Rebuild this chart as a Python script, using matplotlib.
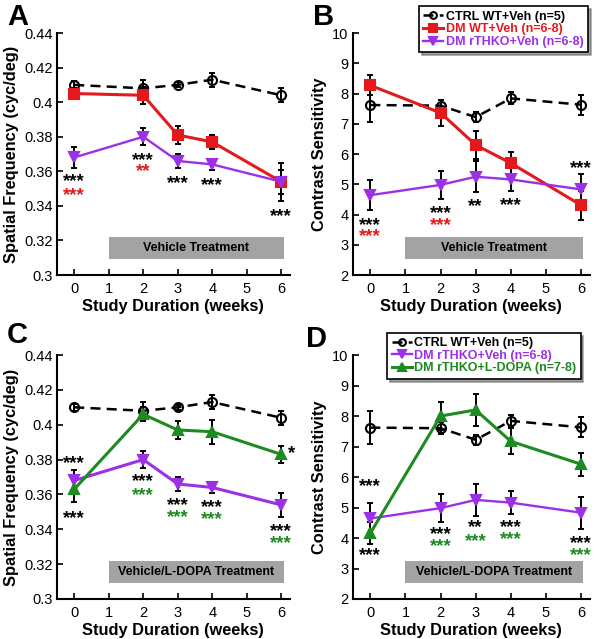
import matplotlib.pyplot as plt
from matplotlib.patches import Rectangle
from matplotlib.ticker import FuncFormatter
from matplotlib.transforms import ScaledTranslation

plt.rcParams['font.family'] = ['Liberation Sans', 'DejaVu Sans']

# ---- data ----
weeks = [0, 2, 3, 4, 6]

sf_ctrl = [0.410, 0.408, 0.410, 0.413, 0.404]
sf_ctrl_err = [0.002, 0.005, 0.0015, 0.004, 0.004]
sf_wt = [0.405, 0.404, 0.381, 0.377, 0.354]
sf_wt_err = [0.002, 0.005, 0.005, 0.004, 0.011]
sf_ko = [0.368, 0.380, 0.366, 0.364, 0.354]
sf_ko_err = [0.006, 0.005, 0.004, 0.003, 0.007]
sf_ld = [0.363, 0.406, 0.397, 0.396, 0.383]
sf_ld_err = [0.0075, 0.004, 0.005, 0.007, 0.005]

cs_ctrl = [7.62, 7.60, 7.22, 7.84, 7.63]
cs_ctrl_err = [0.55, 0.20, 0.16, 0.20, 0.33]
cs_wt = [8.27, 7.36, 6.30, 5.70, 4.31]
cs_wt_err = [0.33, 0.42, 0.46, 0.37, 0.48]
cs_ko = [4.64, 4.98, 5.25, 5.16, 4.83]
cs_ko_err = [0.50, 0.47, 0.52, 0.37, 0.52]
cs_ld = [4.16, 8.00, 8.20, 7.17, 6.42]
cs_ld_err = [0.36, 0.47, 0.52, 0.43, 0.38]

lab_ctrl = 'CTRL WT+Veh (n=5)'
lab_wt = 'DM WT+Veh (n=6-8)'
lab_ko = 'DM rTHKO+Veh (n=6-8)'
lab_ld = 'DM rTHKO+L-DOPA (n=7-8)'

RED = '#e3191c'
PURPLE = '#9b30e6'
GREEN = '#1d8a22'

# significance stars: (week, y, text, colour)
stars_a = [(0, 0.357, '***', 'k'), (0, 0.349, '***', RED),
           (2, 0.3693, '***', 'k'), (2, 0.3626, '**', RED),
           (3, 0.356, '***', 'k'), (4, 0.355, '***', 'k'), (6, 0.337, '***', 'k')]
stars_b = [(0, 3.82, '***', 'k'), (0, 3.43, '***', RED),
           (2, 4.20, '***', 'k'), (2, 3.82, '***', RED),
           (3, 4.42, '**', 'k'), (4, 4.48, '***', 'k'), (6, 5.69, '***', 'k')]
stars_c = [(0, 0.3808, '***', 'k'), (0, 0.3493, '***', 'k'),
           (2, 0.3703, '***', 'k'), (2, 0.3623, '***', GREEN),
           (3, 0.3565, '***', 'k'), (3, 0.3497, '***', GREEN),
           (4, 0.3554, '***', 'k'), (4, 0.3487, '***', GREEN),
           (6, 0.3416, '***', 'k'), (6, 0.3346, '***', GREEN),
           (6.3, 0.3865, '*', 'k')]
stars_d = [(0, 5.85, '***', 'k'), (0, 3.59, '***', 'k'),
           (2, 4.27, '***', 'k'), (2, 3.89, '***', GREEN),
           (3, 4.52, '**', 'k'), (3, 4.05, '***', GREEN),
           (4, 4.52, '***', 'k'), (4, 4.13, '***', GREEN),
           (6, 4.00, '***', 'k'), (6, 3.61, '***', GREEN)]

fig = plt.figure(figsize=(6.0, 6.39), dpi=100)

ax_a = fig.add_axes([0.095, 0.5696, 0.388, 0.3787])
ax_b = fig.add_axes([0.588, 0.5696, 0.395, 0.3787])
ax_c = fig.add_axes([0.095, 0.0626, 0.388, 0.3818])
ax_d = fig.add_axes([0.588, 0.0626, 0.395, 0.3818])


def series(ax, y, err, color, marker, ls, lw, ms, label, mfc=None):
    ax.errorbar(weeks, y, yerr=err, fmt='none', ecolor='k', elinewidth=1.4,
                capsize=2.2, capthick=1.4, zorder=3)
    ax.plot(weeks, y, color=color, ls=ls, lw=lw, marker=marker, ms=ms,
            mfc=color if mfc is None else mfc, mec=color, mew=1.5,
            label=label, zorder=4)


def style(ax, ylim, yticks, ylabel, box_y, box_h, box_text):
    ax.set_xlim(-0.5, 6.25)
    ax.set_ylim(*ylim)
    ax.set_yticks(yticks)
    ax.set_xticks(range(7))
    ax.yaxis.set_major_formatter(FuncFormatter(lambda v, p: ('%g' % round(v, 3))))
    ax.spines['top'].set_visible(False)
    ax.spines['right'].set_visible(False)
    for s in ('left', 'bottom'):
        ax.spines[s].set_linewidth(1.5)
    ax.tick_params(direction='in', length=4, width=1.2, labelsize=10.5, pad=3)
    ax.tick_params(axis='x', pad=5)
    ax.set_xlabel('Study Duration (weeks)', fontsize=11.8, fontweight='bold', labelpad=2)
    ax.set_ylabel(ylabel, fontsize=11.8, fontweight='bold', labelpad=4)
    ax.add_patch(Rectangle((1.0, box_y), 5.07, box_h, facecolor='#a3a3a3',
                           edgecolor='none', zorder=1))
    ax.text(3.535, box_y + box_h / 2, box_text, ha='center', va='center',
            fontsize=9, fontweight='bold', zorder=2)


def add_stars(ax, stars, fs=13.5):
    # asterisks sit high in the em box: shift so their middle lands on y
    shift = ScaledTranslation(0, -0.52 * fs / 72, fig.dpi_scale_trans)
    for x, y, t, c in stars:
        ax.text(x, y, t, color=c, ha='center', va='baseline', fontsize=fs,
                fontweight='bold', zorder=5, transform=ax.transData + shift)


sf_ticks = [0.30, 0.32, 0.34, 0.36, 0.38, 0.40, 0.42, 0.44]
cs_ticks = list(range(2, 11))
dash = (0, (4, 2.5))

# A
series(ax_a, sf_ctrl, sf_ctrl_err, 'k', 'o', dash, 1.8, 6.5, lab_ctrl, mfc='none')
series(ax_a, sf_wt, sf_wt_err, RED, 's', '-', 2.2, 7, lab_wt)
series(ax_a, sf_ko, sf_ko_err, PURPLE, 'v', '-', 1.7, 7.5, lab_ko)
style(ax_a, (0.3, 0.44), sf_ticks, 'Spatial Frequency (cyc/deg)', 0.309, 0.0128,
      'Vehicle Treatment')
add_stars(ax_a, stars_a)

# B
series(ax_b, cs_ctrl, cs_ctrl_err, 'k', 'o', dash, 1.8, 6.5, lab_ctrl, mfc='none')
series(ax_b, cs_wt, cs_wt_err, RED, 's', '-', 2.2, 7, lab_wt)
series(ax_b, cs_ko, cs_ko_err, PURPLE, 'v', '-', 1.7, 7.5, lab_ko)
style(ax_b, (2, 10), cs_ticks, 'Contrast Sensitivity', 2.52, 0.73,
      'Vehicle Treatment')
add_stars(ax_b, stars_b)

# C
series(ax_c, sf_ctrl, sf_ctrl_err, 'k', 'o', dash, 1.8, 6.5, lab_ctrl, mfc='none')
series(ax_c, sf_ko, sf_ko_err, PURPLE, 'v', '-', 2.2, 7.5, lab_ko)
series(ax_c, sf_ld, sf_ld_err, GREEN, '^', '-', 2.2, 7.5, lab_ld)
style(ax_c, (0.3, 0.44), sf_ticks, 'Spatial Frequency (cyc/deg)', 0.309, 0.0128,
      'Vehicle/L-DOPA Treatment')
add_stars(ax_c, stars_c)

# D
series(ax_d, cs_ctrl, cs_ctrl_err, 'k', 'o', dash, 1.8, 6.5, lab_ctrl, mfc='none')
series(ax_d, cs_ko, cs_ko_err, PURPLE, 'v', '-', 1.7, 7.5, lab_ko)
series(ax_d, cs_ld, cs_ld_err, GREEN, '^', '-', 2.2, 7.5, lab_ld)
style(ax_d, (2, 10), cs_ticks, 'Contrast Sensitivity', 2.52, 0.73,
      'Vehicle/L-DOPA Treatment')
add_stars(ax_d, stars_d)


def legend(ax, anchor, colors):
    leg = ax.legend(loc='upper right', bbox_to_anchor=anchor, bbox_transform=fig.transFigure,
                    prop={'weight': 'bold', 'size': 9.0}, handlelength=1.6,
                    handletextpad=0.2, labelspacing=0.05, borderpad=0.35,
                    fancybox=False, shadow=True, framealpha=1, markerscale=0.75)
    leg.get_frame().set_edgecolor('k')
    leg.get_frame().set_linewidth(1.2)
    for txt, c in zip(leg.get_texts(), colors):
        txt.set_color(c)


legend(ax_b, (0.99, 1.0), ['k', RED, PURPLE])
legend(ax_d, (0.978, 0.489), ['k', PURPLE, GREEN])

for lbl, x, y in [('A', 0.012, 0.995), ('B', 0.522, 0.995), ('C', 0.012, 0.497), ('D', 0.51, 0.492)]:
    fig.text(x, y, lbl, fontsize=21, fontweight='bold', va='top', ha='left')

fig.savefig('out.png', dpi=100)
